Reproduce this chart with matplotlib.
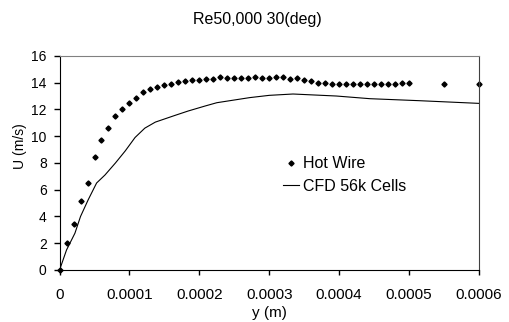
import numpy as np
import matplotlib

matplotlib.use('Agg')
import matplotlib.pyplot as plt

# hot wire measurements, y in units of 1e-4 m
hw_y = [0.0, 0.1, 0.2, 0.3, 0.4, 0.5, 0.6, 0.7, 0.8, 0.9, 1.0,
        1.1, 1.2, 1.3, 1.4, 1.5, 1.6, 1.7, 1.8, 1.9, 2.0,
        2.1, 2.2, 2.3, 2.4, 2.5, 2.6, 2.7, 2.8, 2.9, 3.0,
        3.1, 3.2, 3.3, 3.4, 3.5, 3.6, 3.7, 3.8, 3.9, 4.0,
        4.1, 4.2, 4.3, 4.4, 4.5, 4.6, 4.7, 4.8, 4.9, 5.0,
        5.5, 6.0]
hw_u = [0.0, 2.05, 3.4, 5.12, 6.5, 8.48, 9.72, 10.6, 11.48, 12.03, 12.5,
        12.85, 13.33, 13.53, 13.7, 13.83, 13.9, 14.03, 14.15, 14.18, 14.22,
        14.25, 14.28, 14.45, 14.38, 14.38, 14.35, 14.35, 14.43, 14.33, 14.38,
        14.42, 14.4, 14.25, 14.33, 14.2, 14.1, 13.95, 13.95, 13.9, 13.9,
        13.93, 13.9, 13.9, 13.9, 13.9, 13.9, 13.87, 13.9, 14.0, 13.95,
        13.9, 13.93]

# CFD 56k cells profile
cfd_y = [0.0, 0.1, 0.22, 0.3, 0.41, 0.53, 0.65, 0.8, 0.94, 1.08, 1.22,
         1.37, 1.51, 1.65, 1.84, 2.08, 2.25, 2.72, 3.0, 3.34, 3.96,
         4.44, 5.15, 6.0]
cfd_u = [0.0, 1.5, 2.75, 4.0, 5.25, 6.5, 7.1, 8.0, 8.9, 9.9, 10.6,
         11.05, 11.3, 11.55, 11.88, 12.25, 12.5, 12.88, 13.05, 13.15, 13.0,
         12.8, 12.65, 12.45]

x_ticks = [0, 1e-4, 2e-4, 3e-4, 4e-4, 5e-4, 6e-4]
x_labels = ['0', '0.0001', '0.0002', '0.0003', '0.0004', '0.0005', '0.0006']
y_ticks = [0, 2, 4, 6, 8, 10, 12, 14, 16]

plt.rcParams['font.family'] = ['Liberation Sans', 'DejaVu Sans']
plt.rcParams['font.size'] = 10

fig = plt.figure(figsize=(5.09, 3.22), dpi=100)
ax = fig.add_axes([0.117, 0.1615, 0.824, 0.665])

ax.plot(np.array(hw_y) * 1e-4, hw_u, linestyle='none', marker='D',
        markersize=2.6, color='black', label='Hot Wire', clip_on=False)
ax.plot(np.array(cfd_y) * 1e-4, cfd_u, color='black', linewidth=0.8,
        label='CFD 56k Cells')

ax.set_xlim(0, 6e-4)
ax.set_ylim(0, 16)
ax.set_xticks(x_ticks)
ax.set_xticklabels(x_labels, fontsize=11)
ax.set_yticks(y_ticks)
ax.tick_params(axis='x', direction='out', length=3.6, width=1, pad=9.4)
ax.tick_params(axis='y', direction='out', length=4.3, width=1, pad=5,
               labelsize=10)

ax.spines['top'].set_color('#808080')
ax.spines['right'].set_color('#404040')
for side in ['left', 'bottom']:
    ax.spines[side].set_color('black')

ax.set_xlabel('y (m)', fontsize=11)
ax.xaxis.set_label_coords(0.5, -0.168)
ax.set_ylabel('U (m/s)', fontsize=10)
ax.yaxis.set_label_coords(-0.0775, 0.577)

fig.text(0.505, 0.925, 'Re50,000 30(deg)', ha='center', va='baseline',
         fontsize=11.5)

ax.legend(loc='center left', bbox_to_anchor=(0.533, 0.444), frameon=False,
          handlelength=1.0, handletextpad=0.25, labelspacing=0.45,
          borderaxespad=0, borderpad=0, fontsize=11.5)

fig.savefig('out.png', dpi=100)
plt.close()
